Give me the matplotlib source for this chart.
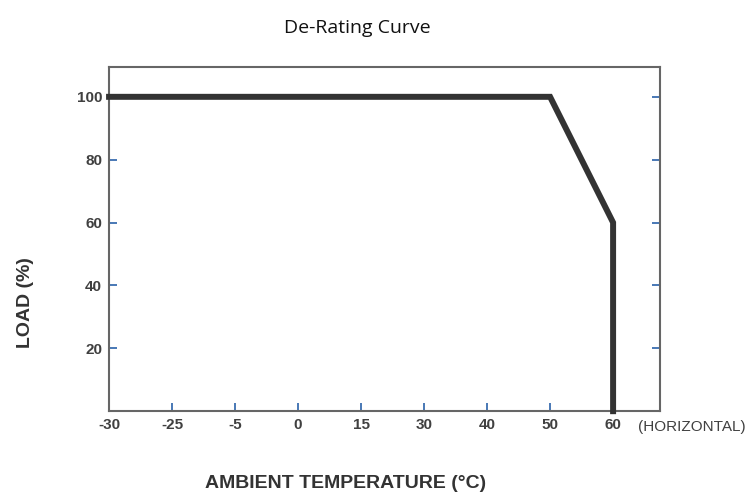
import matplotlib
matplotlib.use('Agg')
import matplotlib.pyplot as plt

# x axis is categorical: labels are spaced evenly, not by value
temp_labels = ['-30', '-25', '-5', '0', '15', '30', '40', '50', '60']
curve_temp = ['-30', '50', '60', '60']
curve_load = [100, 100, 60, 0]
load_ticks = [20, 40, 60, 80, 100]

pos = [temp_labels.index(t) for t in curve_temp]

fig = plt.figure(figsize=(7.47, 4.96), dpi=100)
ax = fig.add_axes([0.146, 0.171, 0.738, 0.694])

ax.plot(pos, curve_load, color='#333333', lw=4.3, solid_joinstyle='miter', clip_on=False, zorder=3)

ax.set_xlim(0, 8.75)
ax.set_ylim(0, 109.5)

ax.set_xticks(range(len(temp_labels)))
ax.set_xticklabels(temp_labels)
ax.set_yticks(load_ticks)

for sp in ax.spines.values():
    sp.set_color('#666666')
    sp.set_linewidth(1.5)

ax.tick_params(axis='both', direction='in', length=6, width=1.3, color='#3a6db0',
               labelsize=11, labelcolor='#404040', pad=5)
ax.tick_params(axis='y', right=True)
for lab in ax.get_xticklabels() + ax.get_yticklabels():
    lab.set_fontfamily('Liberation Sans')
    lab.set_fontweight('bold')

fig.text(0.478, 0.943, 'De-Rating Curve', ha='center', va='center',
         fontsize=14, family='Open Sans', color='#111111')
fig.text(0.034, 0.39, 'LOAD (%)', rotation=90, ha='center', va='center',
         fontsize=14, fontweight='bold', family='Liberation Sans', color='#333333')
fig.text(0.462, 0.026, 'AMBIENT TEMPERATURE (°C)', ha='center', va='center',
         fontsize=14, fontweight='bold', family='Liberation Sans', color='#333333')
fig.text(0.854, 0.139, '(HORIZONTAL)', ha='left', va='center',
         fontsize=11, family='Liberation Sans', color='#404040')

fig.savefig('out.png', dpi=100)
